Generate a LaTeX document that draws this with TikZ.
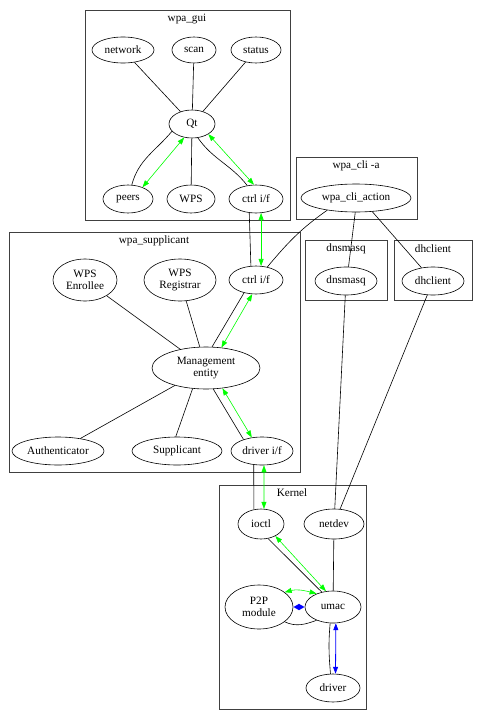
\documentclass[tikz,border=0pt]{standalone}
\usepackage{fontspec}
\setmainfont{Liberation Serif}
\usetikzlibrary{shapes.geometric,arrows.meta}
\definecolor{gvgreen}{RGB}{0,255,0}
\definecolor{gvblue}{RGB}{0,0,255}
\begin{document}
\begin{tikzpicture}[x=1pt,y=-1pt,
  nd/.style={ellipse, draw, line width=0.6pt, inner sep=0pt, align=center, font=\fontsize{11.2}{12.5}\selectfont},
  clbox/.style={draw=black!75, line width=0.9pt},
  cllabel/.style={font=\fontsize{11.2}{12.5}\selectfont, inner sep=0pt},
  ln/.style={black, line width=0.6pt},
  grn/.style={gvgreen, line width=0.6pt, {Triangle[length=7pt,width=5pt]}-{Triangle[length=7pt,width=5pt]}},
  blu/.style={gvblue, line width=0.8pt, {Triangle[length=7pt,width=5pt]}-{Triangle[length=7pt,width=5pt]}},
  blut/.style={gvblue, line width=1.6pt, {Triangle[length=6pt,width=6pt]}-{Triangle[length=6pt,width=6pt]}}
]
\useasboundingbox (0,0) rectangle (482,720);
\fill[white] (0,0) rectangle (482,720);

% clusters
\draw[clbox] (85,10) rectangle (290,220);
\node[cllabel] (lgui) at (187,19) {wpa\_gui};
\draw[clbox] (296,157) rectangle (417,219);
\node[cllabel] (lcli) at (356,166) {wpa\_cli -a};
\draw[clbox] (9,232) rectangle (300,472);
\node[cllabel] (lsup) at (154,241) {wpa\_supplicant};
\draw[clbox] (305,240) rectangle (387,300);
\node[cllabel] (ldns) at (346,249) {dnsmasq};
\draw[clbox] (394,240) rectangle (472,300);
\node[cllabel] (ldhc) at (433,249) {dhclient};
\draw[clbox] (219,485) rectangle (366,709);
\node[cllabel] (lker) at (292,493) {Kernel};

% nodes
\node[nd, minimum width=62pt, minimum height=26pt] (network) at (123,50) {network};
\node[nd, minimum width=44pt, minimum height=26pt] (scan) at (194,50) {scan};
\node[nd, minimum width=50pt, minimum height=26pt] (status) at (256,50) {status};
\node[nd, minimum width=46pt, minimum height=28pt] (qt) at (192,124) {Qt};
\node[nd, minimum width=50pt, minimum height=28pt] (peers) at (128,199) {peers};
\node[nd, minimum width=48pt, minimum height=28pt] (wps) at (191,199) {WPS};
\node[nd, minimum width=54pt, minimum height=28pt] (ctrlg) at (256,199) {ctrl i/f};
\node[nd, minimum width=110pt, minimum height=28pt] (cli) at (356,198) {wpa\_cli\_action};
\node[nd, minimum width=54pt, minimum height=28pt] (ctrls) at (256,280) {ctrl i/f};
\node[nd, minimum width=64pt, minimum height=42pt] (enr) at (85,280) {WPS\\Enrollee};
\node[nd, minimum width=72pt, minimum height=42pt] (reg) at (180,280) {WPS\\Registrar};
\node[nd, minimum width=108pt, minimum height=42pt] (mgmt) at (206,368) {Management\\entity};
\node[nd, minimum width=92pt, minimum height=28pt] (auth) at (58,451) {Authenticator};
\node[nd, minimum width=90pt, minimum height=28pt] (supp) at (177,451) {Supplicant};
\node[nd, minimum width=62pt, minimum height=28pt] (drv) at (262,451) {driver i/f};
\node[nd, minimum width=62pt, minimum height=28pt] (dns) at (346,281) {dnsmasq};
\node[nd, minimum width=62pt, minimum height=28pt] (dhc) at (433,281) {dhclient};
\node[nd, minimum width=46pt, minimum height=30pt] (ioctl) at (261,524) {ioctl};
\node[nd, minimum width=60pt, minimum height=30pt] (netdev) at (334,524) {netdev};
\node[nd, minimum width=68pt, minimum height=44pt] (p2p) at (259,607) {P2P\\module};
\node[nd, minimum width=56pt, minimum height=32pt] (umac) at (333,607) {umac};
\node[nd, minimum width=54pt, minimum height=28pt] (driver) at (333,688) {driver};

% edges in wpa_gui
\draw[ln] (network) -- (qt);
\draw[ln] (scan) -- (qt);
\draw[ln] (status) -- (qt);
\draw[ln] (qt) -- (wps);
\draw[ln] (qt.200) to[out=230,in=75] (peers.75);
\draw[grn] (qt.240) -- (peers.39);
\draw[ln] (qt.293) to[out=305,in=128] (ctrlg.123);
\draw[grn] (qt.328) -- (ctrlg.98);

% gui to supplicant
\draw[ln] (ctrlg.244) -- (ctrls.110);
\draw[grn] (ctrlg.290) -- (ctrls.70);
\draw[ln] (cli.203) to[out=215,in=50] (ctrls.49);
\draw[ln] (cli.267) -- (dns.80);
\draw[ln] (cli.320) -- (dhc.131);

% inside supplicant
\draw[ln] (ctrls.227) -- (mgmt.74);
\draw[grn] (ctrls.255) -- (mgmt.53);
\draw[ln] (enr) -- (mgmt);
\draw[ln] (reg) -- (mgmt);
\draw[ln] (mgmt) -- (auth);
\draw[ln] (mgmt.237) -- (supp.95);
\draw[ln] (mgmt.289) -- (drv.148);
\draw[grn] (mgmt.309) -- (drv.127);

% supplicant to kernel
\draw[ln] (drv.239) -- (ioctl.116);
\draw[grn] (drv.278) -- (ioctl.79);
\draw[ln] (dns) -- (netdev);
\draw[ln] (dhc) -- (netdev);

% kernel
\draw[ln] (ioctl.296) -- (umac.127);
\draw[grn] (ioctl.320) -- (umac.114);
\draw[ln] (netdev) -- (umac);
\draw[grn] (p2p.30) to[out=15,in=165] (umac.141);
\draw[blut] (p2p.east) -- (umac.west);
\draw[ln] (p2p.330) to[out=-25,in=200] (umac.219);
\draw[ln] (umac.260) to[out=265,in=95] (driver.100);
\draw[blu] (umac.280) -- (driver.80);
\end{tikzpicture}
\end{document}
